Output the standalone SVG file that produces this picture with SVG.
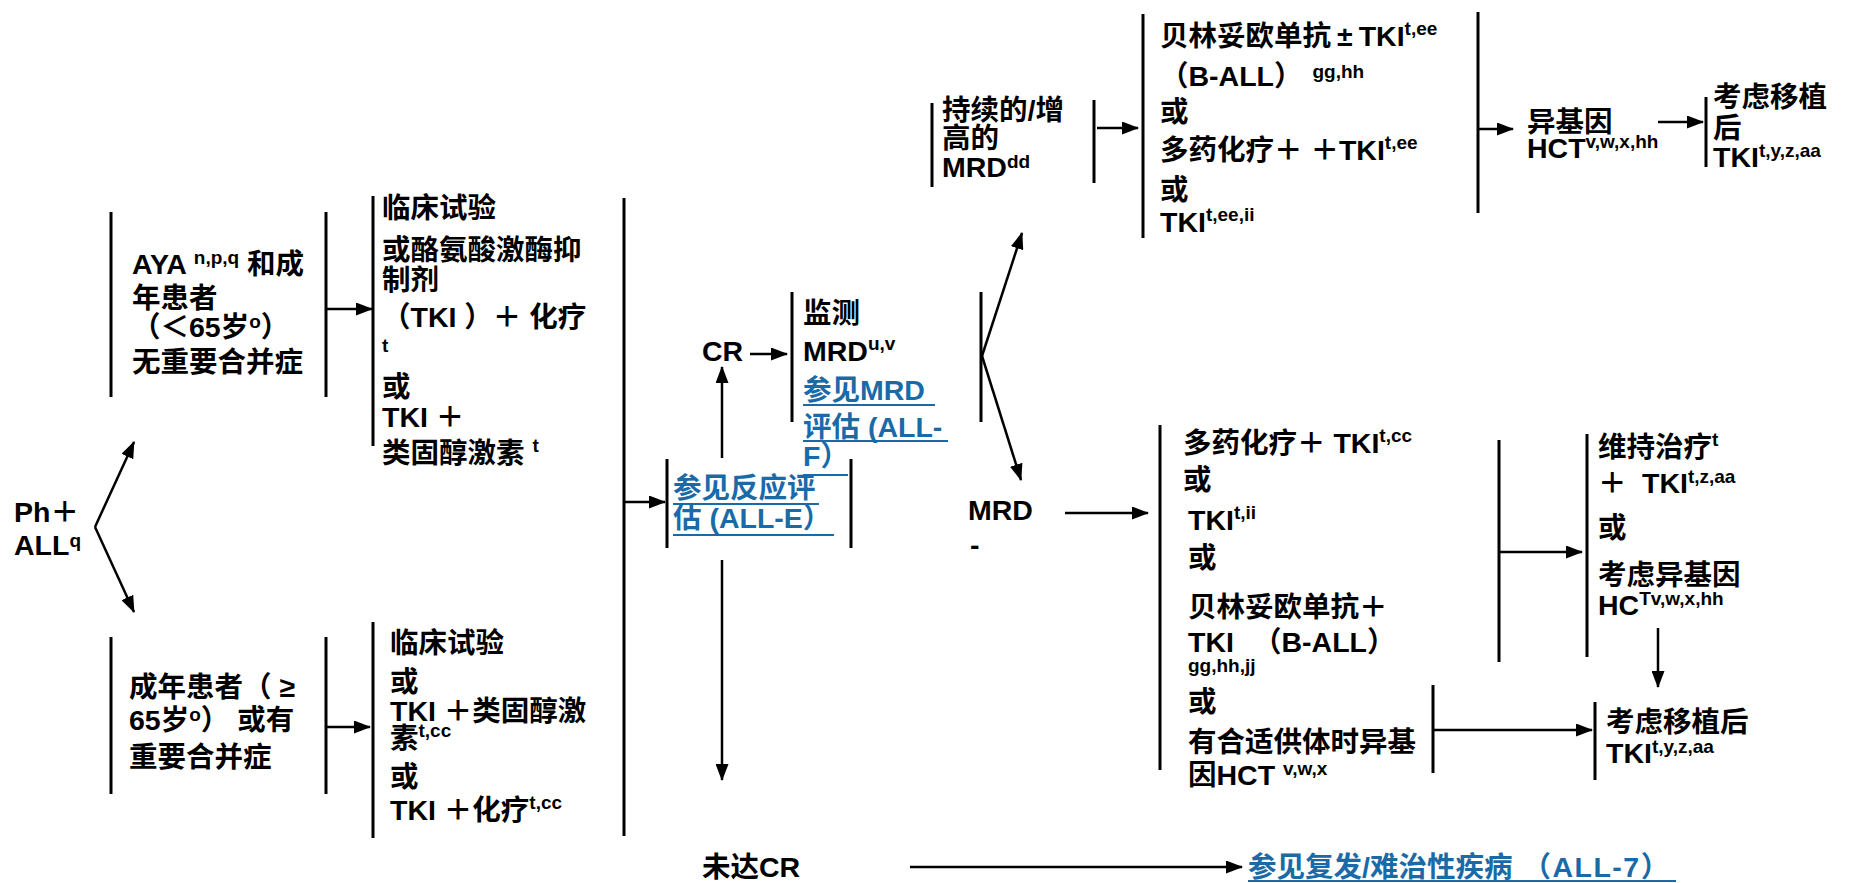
<svg xmlns="http://www.w3.org/2000/svg" width="1849" height="883" viewBox="0 0 1849 883">
<style>
.t{font-family:"Liberation Sans","Noto Sans CJK SC",sans-serif;font-size:28.5px;font-weight:bold;fill:#000}
.s{font-size:19px}
.lk{fill:#1a6aa8}
.br{stroke:#000;stroke-width:3;fill:none}
.cn{stroke:#000;stroke-width:2.5;fill:none;marker-end:url(#ah)}
.ul{stroke:#1a6aa8;stroke-width:2}
</style>
<defs>
<marker id="ah" markerUnits="userSpaceOnUse" markerWidth="17" markerHeight="13" refX="16" refY="6.5" orient="auto">
<path d="M0,0 L17,6.5 L0,13 z" fill="#000"/>
</marker>
</defs>
<rect width="1849" height="883" fill="#fff"/>

<g id="connectors">
<line class="cn" x1="95" y1="527" x2="134" y2="442"/>
<line class="cn" x1="95" y1="527" x2="134" y2="612"/>
<line class="cn" x1="326" y1="309" x2="372" y2="309"/>
<line class="cn" x1="326" y1="727" x2="370" y2="727"/>
<line class="br" x1="624" y1="198" x2="624" y2="836"/>
<line class="cn" x1="624" y1="502" x2="665" y2="502"/>
<line class="cn" x1="722" y1="458" x2="722" y2="367"/>
<line class="cn" x1="722" y1="560" x2="722" y2="780"/>
<line class="cn" x1="750" y1="354" x2="787" y2="354"/>
<line class="cn" x1="982" y1="356" x2="1022" y2="233"/>
<line class="cn" x1="982" y1="356" x2="1021" y2="480"/>
<line class="cn" x1="1065" y1="513" x2="1148" y2="513"/>
<line class="cn" x1="1097" y1="128" x2="1138" y2="128"/>
<line class="cn" x1="1478" y1="129" x2="1513" y2="129"/>
<line class="cn" x1="1658" y1="122" x2="1703" y2="122"/>
<line class="br" x1="1499" y1="440" x2="1499" y2="662"/>
<line class="cn" x1="1499" y1="552" x2="1582" y2="552"/>
<line class="br" x1="1433" y1="685" x2="1433" y2="773"/>
<line class="cn" x1="1433" y1="730" x2="1592" y2="730"/>
<line class="cn" x1="1658" y1="628" x2="1658" y2="687"/>
<line class="cn" x1="910" y1="867" x2="1242" y2="867"/>
</g>

<g id="ph">
<text class="t" x="14" y="522">Ph＋</text>
<text class="t" x="14" y="555">ALL<tspan class="s" dy="-8">q</tspan></text>
</g>

<g id="aya">
<line class="br" x1="111" y1="212" x2="111" y2="397"/>
<line class="br" x1="326" y1="212" x2="326" y2="397"/>
<text class="t" x="132" y="274">AYA <tspan class="s" dy="-10">n,p,q</tspan><tspan dy="10"> 和成</tspan></text>
<text class="t" x="132" y="308">年患者</text>
<text class="t" x="132" y="337">（＜65岁<tspan class="s" dy="-9">o</tspan><tspan dy="9">）</tspan></text>
<text class="t" x="132" y="372">无重要合并症</text>
</g>

<g id="tx1">
<line class="br" x1="373" y1="196" x2="373" y2="446"/>
<text class="t" x="382" y="218">临床试验</text>
<text class="t" x="382" y="260">或酪氨酸激酶抑</text>
<text class="t" x="382" y="290">制剂</text>
<text class="t" x="382" y="327">（TKI ）＋ 化疗</text>
<text class="t s" x="382" y="352">t</text>
<text class="t" x="382" y="397">或</text>
<text class="t" x="382" y="427">TKI ＋</text>
<text class="t" x="382" y="463">类固醇激素 <tspan class="s" dy="-11">t</tspan></text>
</g>

<g id="older">
<line class="br" x1="111" y1="637" x2="111" y2="794"/>
<line class="br" x1="326" y1="637" x2="326" y2="794"/>
<text class="t" x="129" y="697">成年患者（ ≥</text>
<text class="t" x="129" y="730">65岁<tspan class="s" dy="-9">o</tspan><tspan dy="9">） 或有</tspan></text>
<text class="t" x="129" y="767">重要合并症</text>
</g>

<g id="tx2">
<line class="br" x1="373" y1="622" x2="373" y2="838"/>
<text class="t" x="390" y="653">临床试验</text>
<text class="t" x="390" y="692">或</text>
<text class="t" x="390" y="721">TKI ＋类固醇激</text>
<text class="t" x="390" y="748">素<tspan class="s" dy="-11">t,cc</tspan></text>
<text class="t" x="390" y="787">或</text>
<text class="t" x="390" y="820">TKI ＋化疗<tspan class="s" dy="-11">t,cc</tspan></text>
</g>

<g id="response">
<line class="br" x1="667" y1="459" x2="667" y2="548"/>
<line class="br" x1="851" y1="459" x2="851" y2="548"/>
<text class="t lk" x="673" y="498">参见反应评</text>
<line class="ul" x1="673" y1="504" x2="819" y2="504"/>
<text class="t lk" x="673" y="528">估 (ALL-E）</text>
<line class="ul" x1="673" y1="535" x2="834" y2="535"/>
</g>

<g id="cr">
<text class="t" x="702" y="361">CR</text>
</g>

<g id="monitor">
<line class="br" x1="792" y1="292" x2="792" y2="422"/>
<line class="br" x1="981" y1="292" x2="981" y2="422"/>
<text class="t" x="803" y="323">监测</text>
<text class="t" x="803" y="361">MRD<tspan class="s" dy="-11">u,v</tspan></text>
<text class="t lk" x="803" y="400">参见MRD</text>
<line class="ul" x1="803" y1="405" x2="935" y2="405"/>
<text class="t lk" x="803" y="437">评估 (ALL-</text>
<line class="ul" x1="803" y1="441" x2="948" y2="441"/>
<text class="t lk" x="803" y="466">F）</text>
<line class="ul" x1="803" y1="475" x2="848" y2="475"/>
</g>

<g id="mrdpos">
<line class="br" x1="932" y1="103" x2="932" y2="187"/>
<line class="br" x1="1094" y1="100" x2="1094" y2="183"/>
<text class="t" x="942" y="120">持续的/增</text>
<text class="t" x="942" y="148">高的</text>
<text class="t" x="942" y="177">MRD<tspan class="s" dy="-9">dd</tspan></text>
</g>

<g id="tx3">
<line class="br" x1="1143" y1="14" x2="1143" y2="238"/>
<line class="br" x1="1478" y1="12" x2="1478" y2="213"/>
<text class="t" x="1160" y="46">贝林妥欧单抗<tspan dx="6">±</tspan><tspan dx="6">TKI</tspan><tspan class="s" dy="-11">t,ee</tspan></text>
<text class="t" x="1160" y="86">（B-ALL）<tspan class="s" dx="10" dy="-8">gg,hh</tspan></text>
<text class="t" x="1160" y="122">或</text>
<text class="t" x="1160" y="160">多药化疗＋ ＋TKI<tspan class="s" dy="-11">t,ee</tspan></text>
<text class="t" x="1160" y="200">或</text>
<text class="t" x="1160" y="232">TKI<tspan class="s" dy="-11">t,ee,ii</tspan></text>
</g>

<g id="hct1">
<text class="t" x="1527" y="132">异基因</text>
<text class="t" x="1527" y="158">HCT<tspan class="s" dy="-10">v,w,x,hh</tspan></text>
</g>

<g id="post1">
<line class="br" x1="1706" y1="97" x2="1706" y2="167"/>
<text class="t" x="1713" y="107">考虑移植</text>
<text class="t" x="1713" y="138">后</text>
<text class="t" x="1713" y="167">TKI<tspan class="s" dy="-10">t,y,z,aa</tspan></text>
</g>

<g id="mrdneg">
<text class="t" x="968" y="520">MRD</text>
<text class="t" x="970" y="555">-</text>
</g>

<g id="tx4">
<line class="br" x1="1160" y1="425" x2="1160" y2="770"/>
<text class="t" x="1183" y="453">多药化疗＋ TKI<tspan class="s" dy="-11">t,cc</tspan></text>
<text class="t" x="1183" y="490">或</text>
<text class="t" x="1188" y="530">TKI<tspan class="s" dy="-11">t,ii</tspan></text>
<text class="t" x="1188" y="568">或</text>
<text class="t" x="1188" y="617">贝林妥欧单抗＋</text>
<text class="t" x="1188" y="652">TKI</text>
<text class="t" x="1253" y="652">（B-ALL）</text>
<text class="t s" x="1188" y="672">gg,hh,jj</text>
<text class="t" x="1188" y="712">或</text>
<text class="t" x="1188" y="752">有合适供体时异基</text>
<text class="t" x="1188" y="785">因HCT <tspan class="s" dy="-10">v,w,x</tspan></text>
</g>

<g id="maint">
<line class="br" x1="1587" y1="434" x2="1587" y2="657"/>
<text class="t" x="1598" y="457">维持治疗<tspan class="s" dy="-11">t</tspan></text>
<text class="t" x="1598" y="493">＋<tspan x="1642">TKI</tspan><tspan class="s" dy="-10">t,z,aa</tspan></text>
<text class="t" x="1598" y="538">或</text>
<text class="t" x="1598" y="585">考虑异基因</text>
<text class="t" x="1598" y="615">HC<tspan class="s" dy="-10">Tv,w,x,hh</tspan></text>
</g>

<g id="post2">
<line class="br" x1="1595" y1="702" x2="1595" y2="780"/>
<text class="t" x="1606" y="732">考虑移植后</text>
<text class="t" x="1606" y="763">TKI<tspan class="s" dy="-10">t,y,z,aa</tspan></text>
</g>

<g id="nocr">
<text class="t" x="702" y="877">未达CR</text>
</g>

<g id="relapse">
<text class="t lk" x="1248" y="877">参见复发/难治性疾病<tspan dx="10" letter-spacing="1.5">（ALL-7）</tspan></text>
<line class="ul" x1="1248" y1="881" x2="1676" y2="881"/>
</g>
</svg>
